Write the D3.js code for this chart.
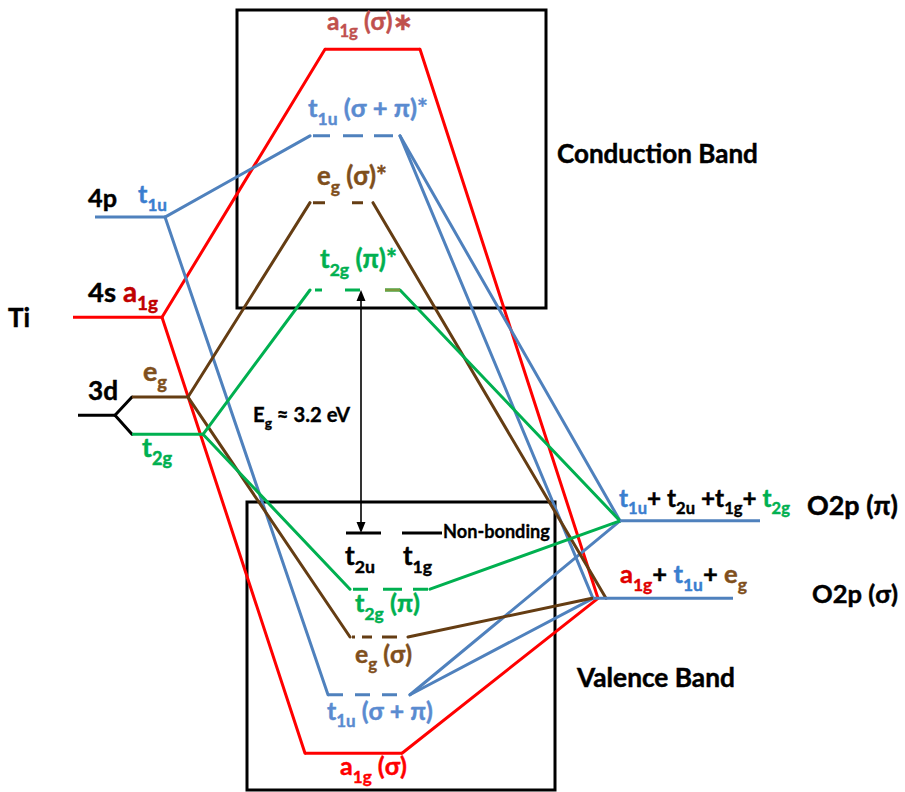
<!DOCTYPE html>
<html>
<head>
<meta charset="utf-8">
<script src="https://cdn.jsdelivr.net/npm/d3@7"></script>
<style>
  body { margin: 0; background: #fff; }
  svg { display: block; }
  text { font-family: Lato, "Open Sans", "DejaVu Sans", sans-serif; font-weight: 700; white-space: pre; }
</style>
</head>
<body>
<svg id="chart" width="905" height="792"></svg>
<script>
// Energy levels of TiO6 (eV, relative to the non-bonding t2u/t1g level at the valence band top)
const levelIds = [
  "ti4p", "ti4s", "ti3d", "tiEg", "tiT2g",
  "a1gStar", "t1uStar", "egStar", "t2gStar",
  "t2u", "t1g", "t2gPi", "egSigma", "t1uSigmaPi", "a1gSigma",
  "o2pPi", "o2pSigma"
];
const levelEnergy = [
  4.16, 2.84, 1.55, 1.79, 1.30,
  6.37, 5.23, 4.35, 3.20,
  0.00, 0.00, -0.74, -1.37, -2.13, -2.90,
  0.16, -0.86
];
const bandGap = 3.2;

const C = { red: "#ff0000", blue: "#4f81bd", brown: "#653d13", green: "#00b050", black: "#000000" };

// horizontal extent, colour and dash style of each level bar
const levelLayout = {
  ti4p:       { x1: 95,  x2: 165, color: C.blue },
  ti4s:       { x1: 73,  x2: 162, color: C.red },
  ti3d:       { x1: 78,  x2: 115, color: C.black },
  tiEg:       { x1: 132, x2: 188, color: C.brown },
  tiT2g:      { x1: 132, x2: 203, color: C.green },
  a1gStar:    { x1: 325, x2: 420, color: C.red },
  t1uStar:    { x1: 310, x2: 400, color: C.blue,  dash: "0,3,17,13,20,11,19,7" },
  egStar:     { x1: 310, x2: 373, color: C.brown, dash: "0,3,12,27,11,10" },
  t2gStar:    { x1: 310, x2: 400, color: C.green, dash: "0,5,7,23,15,25,15" },
  t2u:        { x1: 346, x2: 381, color: C.black },
  t1g:        { x1: 402, x2: 442, color: C.black },
  t2gPi:      { x1: 350, x2: 430, color: C.green, dash: "0,3,15,15,19,11,15,2" },
  egSigma:    { x1: 352, x2: 408, color: C.brown, dash: "3,7,10,10,15,11" },
  t1uSigmaPi: { x1: 328, x2: 410, color: C.blue,  dash: "15,12" },
  a1gSigma:   { x1: 305, x2: 402, color: C.red },
  o2pPi:      { x1: 620, x2: 760, color: C.blue },
  o2pSigma:   { x1: 593, x2: 733, color: C.blue }
};

// correlation lines: [from level, x on it, to level, x on it, colour]
const connectors = [
  ["ti3d", 115, "tiEg", 132, C.black],
  ["ti3d", 115, "tiT2g", 132, C.black],
  ["ti4s", 162, "a1gStar", 325, C.red],
  ["a1gStar", 420, "o2pSigma", 598, C.red],
  ["ti4s", 162, "a1gSigma", 305, C.red],
  ["a1gSigma", 402, "o2pSigma", 598, C.red],
  ["ti4p", 165, "t1uStar", 310, C.blue],
  ["t1uStar", 400, "o2pPi", 620, C.blue],
  ["t1uStar", 400, "o2pSigma", 593, C.blue],
  ["ti4p", 165, "t1uSigmaPi", 328, C.blue],
  ["t1uSigmaPi", 410, "o2pPi", 620, C.blue],
  ["t1uSigmaPi", 410, "o2pSigma", 593, C.blue],
  ["tiEg", 188, "egStar", 310, C.brown],
  ["egStar", 373, "o2pSigma", 606, C.brown],
  ["tiEg", 188, "egSigma", 350, C.brown],
  ["egSigma", 408, "o2pSigma", 592, C.brown],
  ["tiT2g", 203, "t2gStar", 310, C.green],
  ["t2gStar", 400, "o2pPi", 620, C.green],
  ["tiT2g", 203, "t2gPi", 350, C.green],
  ["t2gPi", 430, "o2pPi", 620, C.green]
];

// text labels: [[markup, colour]...], left x, baseline y, width; {..} marks a subscript
const labels = [
  [[["Ti", C.black]], 8, 327, 22],
  [[["4p", C.black]], 88, 207, 29],
  [[["t{1u}", "#3a7ecf"]], 138, 203, 29],
  [[["4s", C.black]], 88, 302, 28],
  [[["a{1g}", "#c00000"]], 123, 302, 35],
  [[["3d", C.black]], 88, 400, 30],
  [[["e{g}", "#7f4f1c"]], 143, 381, 24],
  [[["t{2g}", C.green]], 142, 457, 30],
  [[["a{1g} (σ)∗", "#c0504d"]], 327, 30, 86],
  [[["t{1u} (σ + π)*", "#5a8bd0"]], 308, 117, 120],
  [[["e{g} (σ)*", "#7f4f1c"]], 317, 185, 70],
  [[["t{2g} (π)*", C.green]], 320, 268, 77],
  [[["E{g} ≈ 3.2 eV", C.black]], 253, 422, 97],
  [[["Non-bonding", C.black]], 443, 538, 107],
  [[["t{2u}", C.black]], 345, 565, 30],
  [[["t{1g}", C.black]], 403, 565, 29],
  [[["t{2g} (π)", C.green]], 355, 612, 65],
  [[["e{g} (σ)", "#7f4f1c"]], 355, 663, 57],
  [[["t{1u} (σ + π)", "#5a8bd0"]], 327, 720, 106],
  [[["a{1g} (σ)", "#ff0000"]], 340, 775, 67],
  [[["Conduction Band", C.black]], 557, 163, 201],
  [[["Valence Band", C.black]], 577, 687, 158],
  [[["t{1u}", "#3a7ecf"], ["+ t{2u} +t{1g}+ ", C.black], ["t{2g}", C.green]], 619, 507, 171],
  [[["O2p (π)", C.black]], 807, 515, 91],
  [[["a{1g}", "#e00000"], ["+ ", C.black], ["t{1u}", "#3a7ecf"], ["+ ", C.black], ["e{g}", "#7f4f1c"]], 620, 583, 127],
  [[["O2p (σ)", C.black]], 812, 603, 86]
];

const svg = d3.select("#chart");
const x = d3.scaleLinear().domain([0, 905]).range([0, 905]);
const y = d3.scaleLinear().domain([0, bandGap]).range([533, 290]);
const energy = id => levelEnergy[levelIds.indexOf(id)];

// band boxes
const boxes = svg.append("g").attr("fill", "none").attr("stroke", "#000").attr("stroke-width", 3);
boxes.append("rect").attr("x", x(237)).attr("y", 10).attr("width", x(546) - x(237)).attr("height", 298);
boxes.append("rect").attr("x", x(247)).attr("y", 502).attr("width", x(555) - x(247)).attr("height", 288);

// correlation lines
svg.append("g").selectAll("line").data(connectors).join("line")
  .attr("x1", d => x(d[1])).attr("y1", d => y(energy(d[0])))
  .attr("x2", d => x(d[3])).attr("y2", d => y(energy(d[2])))
  .attr("stroke", d => d[4]).attr("stroke-width", 3).attr("stroke-linecap", "round");

// level bars
svg.append("g").selectAll("line").data(levelIds).join("line")
  .attr("x1", d => x(levelLayout[d].x1)).attr("x2", d => x(levelLayout[d].x2))
  .attr("y1", d => y(energy(d))).attr("y2", d => y(energy(d)))
  .attr("stroke", d => levelLayout[d].color)
  .attr("stroke-width", 3)
  .attr("stroke-dasharray", d => levelLayout[d].dash || null);

// olive tail of the t2g* bar
svg.append("line")
  .attr("x1", x(385)).attr("x2", x(400))
  .attr("y1", y(energy("t2gStar"))).attr("y2", y(energy("t2gStar")))
  .attr("stroke", "#7a9a3c").attr("stroke-width", 3);

// band-gap arrow between t2g* and the non-bonding level
const ax = x(361), yTop = y(bandGap), yBot = y(0);
svg.append("line").attr("x1", ax).attr("x2", ax).attr("y1", yTop + 4).attr("y2", yBot - 4)
  .attr("stroke", "#000").attr("stroke-width", 1.6);
svg.append("path").attr("d", `M${ax},${yTop} l-4.5,11 l9,0 Z`).attr("fill", "#000");
svg.append("path").attr("d", `M${ax},${yBot} l-4.5,-11 l9,0 Z`).attr("fill", "#000");

// labels
function addLabel(parts, lx, ly, width) {
  const F = 20;
  const g = svg.append("g");
  const t = g.append("text").attr("x", 0).attr("y", 0).style("font-size", F + "px");
  let shift = 0;
  parts.forEach(([markup, color]) => {
    markup.split(/(\{[^}]*\})/).filter(s => s.length).forEach(s => {
      const sub = s[0] === "{";
      const txt = sub ? s.slice(1, -1) : s;
      const target = sub ? 0.3 * F : 0;
      t.append("tspan")
        .attr("dy", target - shift)
        .style("font-size", (sub ? 0.68 * F : F) + "px")
        .attr("fill", color)
        .attr("stroke", color)
        .attr("stroke-width", 0.35)
        .text(txt);
      shift = target;
    });
  });
  const k = width / t.node().getComputedTextLength();
  g.attr("transform", `translate(${lx},${ly}) scale(${k})`);
}
labels.forEach(l => addLabel(l[0], l[1], l[2], l[3]));
</script>
</body>
</html>
